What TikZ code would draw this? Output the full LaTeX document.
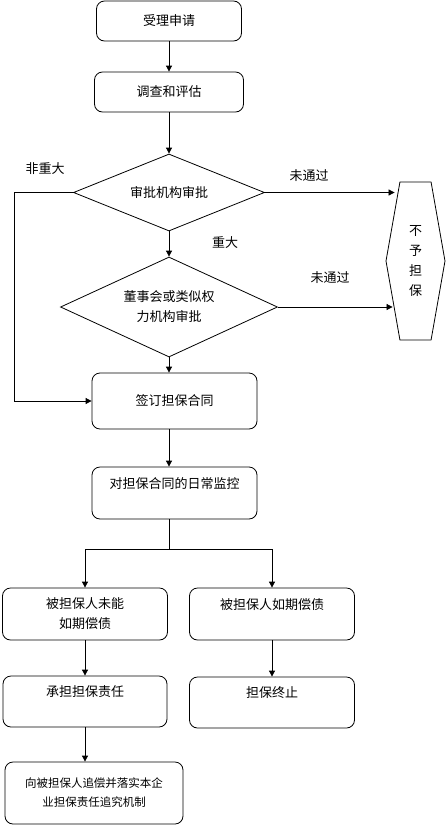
\documentclass[tikz,border=0pt]{standalone}
\usepackage{fontspec}
\setmainfont{Noto Sans CJK SC}
\usetikzlibrary{shapes.geometric, shapes.symbols, arrows.meta}

\begin{document}
\begin{tikzpicture}[x=1pt, y=-1pt, line width=0.8pt, align=center,
    >={Triangle[length=6pt,width=6pt]},
    font=\fontsize{13pt}{20pt}\selectfont,
    box/.style={draw, rounded corners=8pt, inner sep=2pt},
    check/.style={draw, diamond, shape aspect=2.5, inner sep=0pt},
    note/.style={inner sep=1pt}]
    \useasboundingbox (0,0) rectangle (446,825);
    \node[box, minimum width=145pt, minimum height=40pt] (apply) at (169,21) {受理申请};
    \node[box, minimum width=149pt, minimum height=40pt] (survey) at (169,92) {调查和评估};
    \node[check, minimum width=191pt, minimum height=77pt] (d1) at (169,192.5) {审批机构审批};
    \node[check, minimum width=217pt, minimum height=100pt] (d2) at (169,307) {董事会或类似权\\力机构审批};
    \node[draw, signal, signal to=east and west, signal pointer angle=160,
        minimum width=59pt, minimum height=158pt, inner sep=0pt] (refuse) at (415.5,261) {不\\予\\担\\保};
    \node[box, minimum width=165pt, minimum height=56pt] (sign) at (174.5,401) {签订担保合同};
    \node[box, minimum width=165pt, minimum height=52pt] (monitor) at (174.5,493) {对担保合同的日常监控\\~};
    \node[box, minimum width=165pt, minimum height=52pt] (fail) at (85,614) {被担保人未能\\如期偿债};
    \node[box, minimum width=165pt, minimum height=52pt] (repay) at (272,614) {被担保人如期偿债\\~};
    \node[box, minimum width=164pt, minimum height=51pt] (bear) at (85,701.5) {承担担保责任\\~};
    \node[box, minimum width=165pt, minimum height=51pt] (stop) at (272,702.5) {担保终止\\~};
    \node[box, minimum width=178pt, minimum height=62pt,
        font=\fontsize{11.5pt}{19pt}\selectfont] (recover) at (94,793) {向被担保人追偿并落实本企\\业担保责任追究机制};
    % labels
    \node[note] (minor) at (45,169) {非重大};
    \node[note] (major) at (225,243) {重大};
    \node[note] (no1) at (309,176) {未通过};
    \node[note] (no2) at (330,278) {未通过};
    \path[->]
    (apply) edge (survey)
    (survey) edge (d1)
    (d1) edge (d2)
    (d2.south) edge (d2.south |- sign.north)
    (sign.south -| d2) edge (monitor.north -| d2)
    (fail) edge (bear)
    (repay) edge (stop)
    (bear.south) edge (bear.south |- recover.north)
    ;
    \draw[->] (d1.west) -- ++(-59,0) |- (sign);
    \draw[->, shorten >=-9pt] (d1.east) -- (d1.east -| refuse.west);
    \draw[->, shorten >=-7pt] (d2.east) -- (d2.east -| refuse.west);
    \draw[->] (monitor.south -| d2) -- ++(0,30) -| (fail);
    \draw[->] (monitor.south -| d2) -- ++(0,30) -| (repay);
\end{tikzpicture}
\end{document}
